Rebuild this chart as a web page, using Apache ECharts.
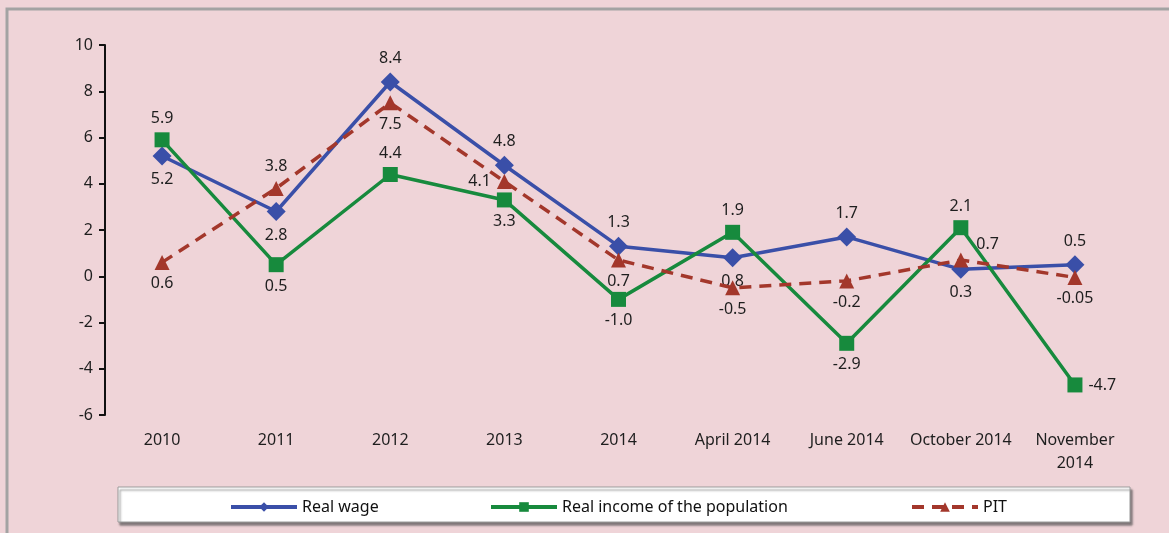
<!DOCTYPE html>
<html>
<head>
<meta charset="utf-8">
<script src="https://cdn.jsdelivr.net/npm/echarts@6/dist/echarts.min.js"></script>
<style>
  html, body { margin: 0; padding: 0; background: #efd4d8; }
  #chart { width: 1169px; height: 533px; }
</style>
</head>
<body>
<div id="chart"></div>
<script>
const categories = ['2010', '2011', '2012', '2013', '2014', 'April 2014', 'June 2014', 'October 2014', 'November\n2014'];
const realWage = [5.2, 2.8, 8.4, 4.8, 1.3, 0.8, 1.7, 0.3, 0.5];
const realIncome = [5.9, 0.5, 4.4, 3.3, -1.0, 1.9, -2.9, 2.1, -4.7];
const pit = [0.6, 3.8, 7.5, 4.1, 0.7, -0.5, -0.2, 0.7, -0.05];
const yTicks = [-6, -4, -2, 0, 2, 4, 6, 8, 10];

// where each value label sits relative to its point
const wageLabelPos = ['bottom', 'bottom', 'top', 'top', 'top', 'bottom', 'top', 'bottom', 'top'];
const incomeLabelPos = ['top', 'bottom', 'top', 'bottom', 'bottom', 'top', 'bottom', 'top', 'right'];
const pitLabelPos = ['bottom', 'top', 'bottom', 'left', 'bottom', 'bottom', 'bottom', 'upRight', 'bottom'];

const FONT = '"Noto Sans", sans-serif';

function withLabels(values, positions) {
    return values.map(function (v, i) {
        let pos = positions[i];
        let label = { position: pos };
        if (pos === 'upRight') {
            label = { position: 'right', offset: [2, -16] };
        }
        return { value: v, label: label };
    });
}

function fmtValue(p) {
    let v = p.value;
    return Number.isInteger(v) ? v.toFixed(1) : String(v);
}

const chart = echarts.init(document.getElementById('chart'));

const labelBase = {
    show: true,
    fontFamily: FONT,
    fontSize: 16,
    color: '#1e1e1e',
    distance: 6,
    formatter: fmtValue
};

const legendText = { fontFamily: FONT, fontSize: 16, color: '#111' };

chart.setOption({
    backgroundColor: '#efd4d8',
    animation: false,
    textStyle: { fontFamily: FONT },
    graphic: [
        {
            type: 'rect',
            shape: { x: 7, y: 9, width: 1200, height: 600 },
            style: { fill: 'none', stroke: '#a3a3a3', lineWidth: 3 },
            silent: true
        },
        {
            type: 'rect',
            shape: { x: 118, y: 487, width: 1012, height: 35 },
            style: {
                fill: '#ffffff', stroke: '#9a9a9a', lineWidth: 1,
                shadowColor: 'rgba(80,80,80,0.7)', shadowOffsetX: 2, shadowOffsetY: 3, shadowBlur: 2
            },
            z: -1,
            silent: true
        }
    ],
    grid: { left: 105, right: 37, top: 45, bottom: 118 },
    legend: [
        {
            data: ['Real wage'], left: 224, top: 494,
            itemWidth: 66, itemHeight: 12, itemGap: 6,
            lineStyle: { width: 4 },
            textStyle: legendText
        },
        {
            data: ['Real income of the population'], left: 484, top: 494,
            itemWidth: 66, itemHeight: 12,
            lineStyle: { width: 4 },
            textStyle: legendText
        },
        {
            data: ['PIT'], left: 905, top: 494,
            itemWidth: 66, itemHeight: 12,
            lineStyle: { width: 4 },
            textStyle: legendText
        }
    ],
    xAxis: {
        type: 'category',
        data: categories,
        boundaryGap: true,
        axisLine: { show: false },
        axisTick: { show: false },
        axisLabel: {
            fontFamily: FONT, fontSize: 16, color: '#1e1e1e',
            margin: 14, lineHeight: 23, interval: 0
        }
    },
    yAxis: {
        type: 'value',
        min: yTicks[0],
        max: yTicks[yTicks.length - 1],
        interval: 2,
        splitLine: { show: false },
        axisLine: { show: true, lineStyle: { color: '#111', width: 2 } },
        axisTick: { show: true, length: 6, lineStyle: { color: '#111', width: 2 } },
        axisLabel: { fontFamily: FONT, fontSize: 16, color: '#1e1e1e', margin: 12 }
    },
    series: [
        {
            name: 'Real wage',
            type: 'line',
            data: withLabels(realWage, wageLabelPos),
            symbol: 'diamond',
            symbolSize: 19,
            lineStyle: { color: '#3a4fa8', width: 3.5 },
            itemStyle: { color: '#3a4fa8' },
            label: labelBase,
            z: 2
        },
        {
            name: 'Real income of the population',
            type: 'line',
            data: withLabels(realIncome, incomeLabelPos),
            symbol: 'rect',
            symbolSize: 15,
            lineStyle: { color: '#178a3d', width: 3.5 },
            itemStyle: { color: '#178a3d' },
            label: labelBase,
            z: 3
        },
        {
            name: 'PIT',
            type: 'line',
            data: withLabels(pit, pitLabelPos),
            symbol: 'triangle',
            symbolSize: 15,
            lineStyle: { color: '#a3372b', width: 3.5, type: [12, 8] },
            itemStyle: { color: '#a3372b' },
            label: labelBase,
            z: 4
        }
    ]
});
</script>
</body>
</html>
